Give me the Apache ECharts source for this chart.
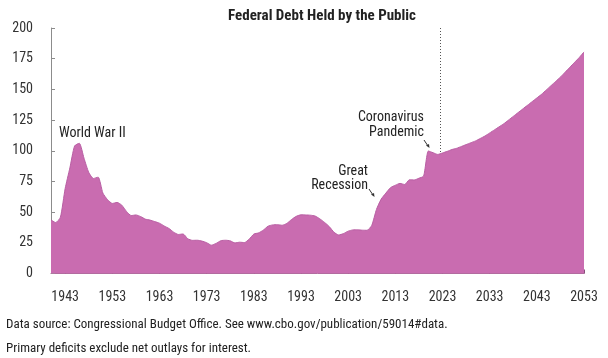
<!DOCTYPE html>
<html><head><meta charset="utf-8">
<script src="https://cdn.jsdelivr.net/npm/echarts@6/dist/echarts.min.js"></script>
<style>html,body{margin:0;padding:0;background:#fff}#c{width:608px;height:358px}</style>
</head><body><div id="c"></div>
<script>
var years = [1940,1941,1942,1943,1944,1945,1946,1947,1948,1949,
1950,1951,1952,1953,1954,1955,1956,1957,1958,1959,
1960,1961,1962,1963,1964,1965,1966,1967,1968,1969,
1970,1971,1972,1973,1974,1975,1976,1977,1978,1979,
1980,1981,1982,1983,1984,1985,1986,1987,1988,1989,
1990,1991,1992,1993,1994,1995,1996,1997,1998,1999,
2000,2001,2002,2003,2004,2005,2006,2007,2008,2009,
2010,2011,2012,2013,2014,2015,2016,2017,2018,2019,
2020,2021,2022,2023,2024,2025,2026,2027,2028,2029,
2030,2031,2032,2033,2034,2035,2036,2037,2038,2039,
2040,2041,2042,2043,2044,2045,2046,2047,2048,2049,
2050,2051,2052,2053];
var debt = [43.6,41.5,45.9,69.2,86.0,103.9,106.1,93.9,82.4,77.4,
78.5,65.5,60.1,57.1,57.9,55.7,50.6,47.2,47.7,46.4,
44.3,43.5,42.3,41.0,38.7,36.7,33.7,31.8,32.2,28.3,
27.0,27.1,26.4,25.1,23.1,24.5,26.7,27.1,26.6,24.9,
25.5,25.2,27.9,32.1,33.1,35.3,38.5,39.6,39.8,39.3,
40.8,44.0,46.6,47.8,47.7,47.5,46.8,44.5,41.6,38.2,
33.6,31.4,32.5,34.5,35.5,35.6,35.3,35.2,39.2,52.2,
60.6,65.5,70.0,71.9,73.4,72.5,76.4,76.2,77.6,79.4,
99.8,98.4,97.0,98.2,99.5,101,102,103.5,105,106.5,
108,110,112,114.5,117,119.5,122,125,128,131,
134,137,140,143,146,149.5,153,156.5,160,164,
168,172,176,180.5];
var xTicks = [1943,1953,1963,1973,1983,1993,2003,2013,2023,2033,2043,2053];
var yTicks = [0,25,50,75,100,125,150,175,200];
var projectionStart = 2022.5;
var title = 'Federal Debt Held by the Public';
var notes = ['Data source: Congressional Budget Office. See www.cbo.gov/publication/59014#data.',
             'Primary deficits exclude net outlays for interest.'];

var FONT = '"Liberation Sans Narrow","Arial Narrow","Roboto Condensed","Liberation Sans",sans-serif';
var pts = years.map(function(y,i){return [y, debt[i]];});
var chart = echarts.init(document.getElementById('c'), null, {renderer:'canvas'});
chart.setOption({
  animation:false,
  textStyle:{fontFamily:FONT},
  title:{text:title,left:317,textAlign:'center',top:4,
    textStyle:{fontFamily:FONT,fontSize:15,fontWeight:'bold',color:'#222'}},
  grid:{left:51,right:24,top:28,bottom:84.5},
  xAxis:{type:'value',min:1940,max:2053,
    axisLine:{show:true,lineStyle:{color:'#9a6a8e',width:1}},
    axisTick:{show:true,inside:true,length:4,customValues:xTicks,lineStyle:{color:'#8a4f7c'}},
    axisLabel:{customValues:xTicks,margin:17,fontSize:14,color:'#333',fontFamily:FONT,
      formatter:function(v){return String(v);}},
    splitLine:{show:false}},
  yAxis:{type:'value',min:0,max:200,
    axisLine:{show:true,lineStyle:{color:'#8c8c8c',width:1}},
    axisTick:{show:true,inside:true,length:4,customValues:yTicks,lineStyle:{color:'#8c8c8c'}},
    axisLabel:{customValues:yTicks,margin:18,fontSize:14,color:'#333',fontFamily:FONT},
    splitLine:{show:false}},
  series:[{
    type:'line',data:pts,showSymbol:false,smooth:0.2,
    lineStyle:{color:'#b85ea3',width:1},
    areaStyle:{color:'#c96cb0',opacity:1},
    markLine:{silent:true,symbol:['none','none'],label:{show:false},
      lineStyle:{color:'#555',type:[1,2],width:1},
      data:[[{coord:[projectionStart,200]},{coord:[projectionStart,97.5]}]]}
  }],
  graphic:[
    {type:'text',left:6,top:318,style:{text:notes[0],font:'13px '+FONT,fill:'#222'}},
    {type:'text',left:6,top:342,style:{text:notes[1],font:'13px '+FONT,fill:'#222'}},
    {type:'text',x:59,y:133,style:{text:'World War II',font:'14px '+FONT,fill:'#222',textAlign:'left',textVerticalAlign:'middle'}},
    {type:'text',x:368,y:171,style:{text:'Great',font:'14px '+FONT,fill:'#222',textAlign:'right',textVerticalAlign:'middle'}},
    {type:'text',x:368,y:185,style:{text:'Recession',font:'14px '+FONT,fill:'#222',textAlign:'right',textVerticalAlign:'middle'}},
    {type:'text',x:424,y:117,style:{text:'Coronavirus',font:'14px '+FONT,fill:'#222',textAlign:'right',textVerticalAlign:'middle'}},
    {type:'text',x:424,y:132,style:{text:'Pandemic',font:'14px '+FONT,fill:'#222',textAlign:'right',textVerticalAlign:'middle'}},
    {type:'line',shape:{x1:369,y1:189,x2:373,y2:195},style:{stroke:'#333',lineWidth:1}},
    {type:'polygon',shape:{points:[[374.5,197],[371,194.5],[374,193]]},style:{fill:'#333'}},
    {type:'line',shape:{x1:424,y1:140,x2:428,y2:146},style:{stroke:'#333',lineWidth:1}},
    {type:'polygon',shape:{points:[[429.5,148],[426,145.5],[429,144]]},style:{fill:'#333'}}
  ]
});
</script></body></html>
